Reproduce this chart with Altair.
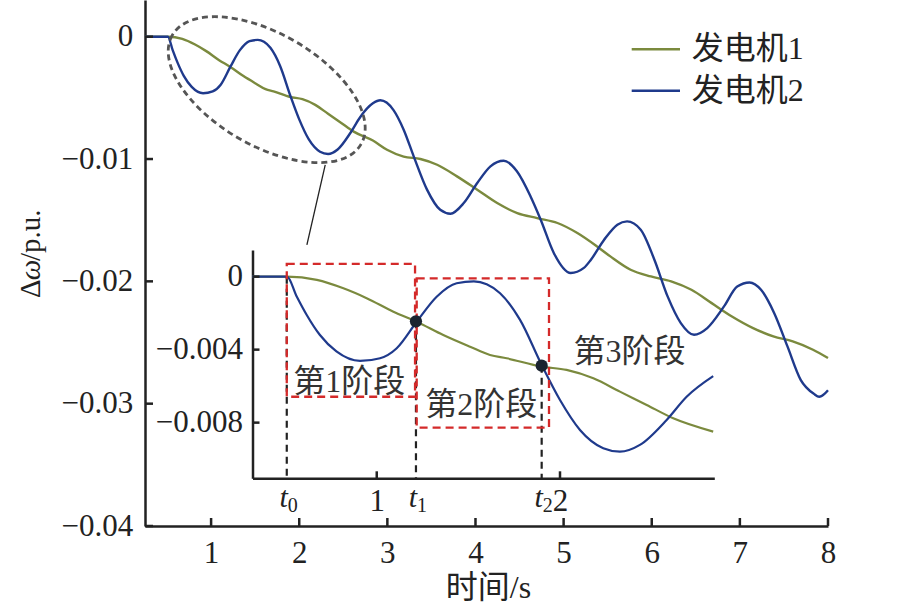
import altair as alt
import pandas as pd

# ---------------- data ----------------
series_names = ["发电机1", "发电机2"]
series_colors = ["#7b8a3e", "#1f3a8c"]

gen1_t = [0.25, 0.32, 0.51, 0.673, 0.818, 0.945, 1.091, 1.218, 1.363, 1.509,
          1.618, 1.709, 1.9, 2.036, 2.182, 2.327, 2.473, 2.618, 2.836,
          2.996, 3.185, 3.375, 3.565, 3.79, 4.02, 4.246, 4.474, 4.70, 4.93,
          5.156, 5.38, 5.53, 5.76, 5.99, 6.22, 6.45, 6.68, 6.91, 7.15,
          7.38, 7.6, 7.83, 8.0]
gen1_v = [0, 0, 0, -0.00018, -0.00064, -0.00118, -0.00192, -0.00247, -0.0032, -0.00384,
          -0.00429, -0.00447, -0.00493, -0.00511, -0.00557, -0.0063, -0.00703, -0.00776, -0.00849,
          -0.00924, -0.0098, -0.0100, -0.01047, -0.01142, -0.01251, -0.0136, -0.01442, -0.01483, -0.01523,
          -0.01605, -0.01715, -0.01796, -0.01905, -0.0196, -0.0200, -0.02069, -0.02178, -0.02287, -0.02382,
          -0.0245, -0.02491, -0.02559, -0.02627]

gen2_t = [0.25, 0.32, 0.51, 0.564, 0.618, 0.69, 0.78, 0.909, 1.018, 1.109,
          1.218, 1.327, 1.436, 1.53, 1.60, 1.673, 1.782, 1.9, 2.0, 2.109,
          2.236, 2.327, 2.436, 2.582, 2.691, 2.836, 2.92, 3.07, 3.185, 3.3,
          3.45, 3.6, 3.716, 3.867, 4.02, 4.17, 4.32, 4.47, 4.625, 4.74,
          4.89, 5.08, 5.23, 5.31, 5.46, 5.61, 5.72, 5.875, 6.03, 6.18,
          6.33, 6.48, 6.63, 6.82, 6.97, 7.11, 7.24, 7.39, 7.54, 7.69,
          7.84, 7.9, 7.96, 8.0]
gen2_v = [0, 0, 0, -0.0011, -0.0021, -0.0032, -0.0041, -0.00462, -0.00447, -0.00392,
          -0.00247, -0.0011, -0.00036, -0.00026, -0.00042, -0.00091, -0.00237, -0.00484, -0.00676, -0.0084,
          -0.0094, -0.00959, -0.00922, -0.00785, -0.00658, -0.00545, -0.0052, -0.006, -0.0076, -0.0098,
          -0.0125, -0.01415, -0.01447, -0.0136, -0.01196, -0.0106, -0.01014, -0.011, -0.01306, -0.01496,
          -0.0177, -0.01932, -0.0189, -0.01823, -0.0166, -0.01537, -0.0151, -0.01578, -0.01823, -0.02123,
          -0.02341, -0.02437, -0.02382, -0.02205, -0.02042, -0.02009, -0.02069, -0.0226, -0.02532, -0.02805,
          -0.0292, -0.02944, -0.0292, -0.0289]

main_x_ticks = [1, 2, 3, 4, 5, 6, 7, 8]
main_y_ticks = [0, -0.01, -0.02, -0.03, -0.04]
inset_x_ticks = [1, 2]
inset_y_ticks = [0, -0.004, -0.008]

x_title = "时间/s"
y_title_parts = ["Δ", "ω", "/p.u."]

# inset stage boundaries and crossing points
stage_t = [0.509, 1.214, 1.9]
stage_sub = ["0", "1", "2"]
stage_top = [0.0, -0.00245, -0.00488]
cross_t = [1.214, 1.9]
cross_v = [-0.00245, -0.00488]
box_t1 = [0.509, 1.218]
box_t2 = [1.209, 1.94]
box_v1 = [0.0007, -0.00009]
box_v2 = [-0.00658, -0.00827]
stage_labels = ["第1阶段", "第2阶段", "第3阶段"]
stage_label_t = [0.545, 1.264, 2.073]
stage_label_v = [-0.0056, -0.00689, -0.00396]

# ellipse annotation (main coordinates) and leader line
ellipse_t, ellipse_v = [1.631], [-0.00433]
leader_t, leader_v, leader_t2, leader_v2 = [2.295], [-0.01047], [2.087], [-0.01701]

# ---------------- frames ----------------
df = pd.concat([
    pd.DataFrame({"t": gen1_t, "v": gen1_v, "series": series_names[0]}),
    pd.DataFrame({"t": gen2_t, "v": gen2_v, "series": series_names[1]}),
], ignore_index=True)

W, H = 683, 526
INK = "#222222"
SERIF = "Liberation Serif"
MIXED = "Liberation Serif, Noto Sans CJK SC"
LBL = 31

def main_x():
    return alt.Scale(domain=[0.25, 8], nice=False, zero=False)

def main_y():
    return alt.Scale(domain=[-0.04, 0.003], nice=False, zero=False)

IX0, IX1, IY0, IY1 = 107.5, 569.3, 478.3, 250.0

def inset_x():
    return alt.Scale(domain=[0.322, 2.842], range=[IX0, IX1], nice=False, zero=False)

def inset_y():
    return alt.Scale(domain=[-0.01105, 0.00146], range=[IY0, IY1], nice=False, zero=False)

color = alt.Color("series:N", scale=alt.Scale(domain=series_names, range=series_colors), legend=None)

axis_common = dict(domainColor=INK, domainWidth=2.5, ticks=False, grid=False,
                   labelFont=SERIF, labelFontSize=LBL, labelColor=INK, labelFlush=False,
                   labelOverlap=False, titleFont=MIXED, titleFontSize=32, titleColor=INK,
                   titleFontWeight="normal", format="~g")

layers = []

# ---------------- main chart ----------------
layers.append(alt.Chart(df).mark_line(interpolate="monotone", strokeWidth=2.4).encode(
    x=alt.X("t:Q", scale=main_x(), axis=alt.Axis(values=main_x_ticks, orient="bottom", labelPadding=12.5,
            title=x_title, titleX=343, titleY=61, titleAlign="center", titleBaseline="middle", **axis_common)),
    y=alt.Y("v:Q", scale=main_y(), axis=alt.Axis(values=main_y_ticks, orient="left", labelPadding=12.3,
            title=None, **axis_common)),
    color=color,
    order=alt.Order("t:Q"),
))

# y-axis title in three pieces (italic omega)
for txt, ypos, style in zip(y_title_parts, [298, 280.3, 261], ["normal", "italic", "normal"]):
    layers.append(alt.Chart(pd.DataFrame({"s": [txt]})).mark_text(
        align="left", baseline="middle", angle=270, font=SERIF, fontSize=29, fontStyle=style,
        color=INK).encode(x=alt.value(-114), y=alt.value(ypos), text="s:N"))

layers.append(alt.Chart(pd.DataFrame({"tick": main_x_ticks})).mark_rule(color=INK, strokeWidth=2.5).encode(
    x=alt.X("tick:Q", scale=main_x(), axis=None), y=alt.value(H), y2=alt.value(H - 8)))
layers.append(alt.Chart(pd.DataFrame({"tick": main_y_ticks})).mark_rule(color=INK, strokeWidth=2.5).encode(
    y=alt.Y("tick:Q", scale=main_y(), axis=None), x=alt.value(0), x2=alt.value(8)))

ellipse_path = "M-1,0A1,0.514,0,1,0,1,0A1,0.514,0,1,0,-1,0Z"
layers.append(alt.Chart(pd.DataFrame({"t": ellipse_t, "v": ellipse_v})).mark_point(
    shape=ellipse_path, filled=False, color="#555555", strokeWidth=2.8, strokeDash=[6, 4],
    size=47524, angle=30, opacity=1).encode(
    x=alt.X("t:Q", scale=main_x(), axis=None), y=alt.Y("v:Q", scale=main_y(), axis=None)))

layers.append(alt.Chart(pd.DataFrame({"a": leader_t, "b": leader_v, "a2": leader_t2, "b2": leader_v2})).mark_rule(
    color=INK, strokeWidth=1.3).encode(
    x=alt.X("a:Q", scale=main_x(), axis=None), y=alt.Y("b:Q", scale=main_y(), axis=None),
    x2="a2:Q", y2="b2:Q"))

for name, col, yy in zip(series_names, series_colors, [49.3, 90.7]):
    d = pd.DataFrame({"s": [name]})
    layers.append(alt.Chart(d).mark_rule(color=col, strokeWidth=2.6).encode(
        x=alt.value(486.7), x2=alt.value(535), y=alt.value(yy)))
    layers.append(alt.Chart(d).mark_text(align="left", baseline="middle", font=MIXED,
                                         fontSize=32, color=INK).encode(
        x=alt.value(546.7), y=alt.value(yy), text="s:N"))

# ---------------- inset ----------------
layers.append(alt.Chart(df).transform_filter(
    (alt.datum.t >= 0.32) & (alt.datum.t <= 2.84)
).mark_line(interpolate="monotone", strokeWidth=2.2).encode(
    x=alt.X("t:Q", scale=inset_x(), axis=alt.Axis(values=inset_x_ticks, orient="bottom", offset=-(H - IY0),
            labelPadding=8.2, title=None, **axis_common)),
    y=alt.Y("v:Q", scale=inset_y(), axis=alt.Axis(values=inset_y_ticks, orient="left", offset=-IX0,
            labelPadding=10, title=None, **axis_common)),
    color=color,
    order=alt.Order("t:Q"),
))

layers.append(alt.Chart(pd.DataFrame({"tick": inset_x_ticks})).mark_rule(color=INK, strokeWidth=2.5).encode(
    x=alt.X("tick:Q", scale=inset_x(), axis=None), y=alt.value(IY0), y2=alt.value(IY0 - 7)))
layers.append(alt.Chart(pd.DataFrame({"tick": inset_y_ticks})).mark_rule(color=INK, strokeWidth=2.5).encode(
    y=alt.Y("tick:Q", scale=inset_y(), axis=None), x=alt.value(IX0), x2=alt.value(IX0 + 7)))

stage_df = pd.DataFrame({"t": stage_t, "top": stage_top, "sub": stage_sub})
layers.append(alt.Chart(stage_df).mark_rule(color=INK, strokeWidth=2.2, strokeDash=[7, 5]).encode(
    x=alt.X("t:Q", scale=inset_x(), axis=None), y=alt.Y("top:Q", scale=inset_y(), axis=None),
    y2=alt.value(IY0)))

layers.append(alt.Chart(pd.DataFrame({"a": box_t1, "a2": box_t2, "b": box_v1, "b2": box_v2})).mark_rect(
    filled=False, color="#d42a2a", strokeWidth=2.3, strokeDash=[8, 5]).encode(
    x=alt.X("a:Q", scale=inset_x(), axis=None), x2="a2:Q",
    y=alt.Y("b:Q", scale=inset_y(), axis=None), y2="b2:Q"))

layers.append(alt.Chart(pd.DataFrame({"t": cross_t, "v": cross_v})).mark_circle(
    size=150, color="#1b2430", opacity=1).encode(
    x=alt.X("t:Q", scale=inset_x(), axis=None), y=alt.Y("v:Q", scale=inset_y(), axis=None)))

layers.append(alt.Chart(pd.DataFrame({"t": stage_label_t, "v": stage_label_v, "s": stage_labels})).mark_text(
    align="left", baseline="middle", font=MIXED, fontSize=32, color="#333333", dy=3).encode(
    x=alt.X("t:Q", scale=inset_x(), axis=None), y=alt.Y("v:Q", scale=inset_y(), axis=None), text="s:N"))

layers.append(alt.Chart(stage_df).mark_text(
    text="t", font=SERIF, fontStyle="italic", fontSize=30, color=INK, baseline="alphabetic", dx=-3).encode(
    x=alt.X("t:Q", scale=inset_x(), axis=None), y=alt.value(507)))
layers.append(alt.Chart(stage_df).mark_text(
    font=SERIF, fontSize=20, color=INK, baseline="alphabetic", dx=6).encode(
    x=alt.X("t:Q", scale=inset_x(), axis=None), y=alt.value(512), text="sub:N"))

chart = alt.layer(*layers).resolve_scale(
    x="independent", y="independent"
).properties(
    width=W, height=H,
    autosize=alt.AutoSizeParams(type="none"),
    padding={"left": 145, "top": 0, "right": 902 - 145 - W, "bottom": 616 - H},
    background="white",
).configure_view(strokeWidth=0)

chart.save("out.html", embed_options={"renderer": "svg", "actions": False})
